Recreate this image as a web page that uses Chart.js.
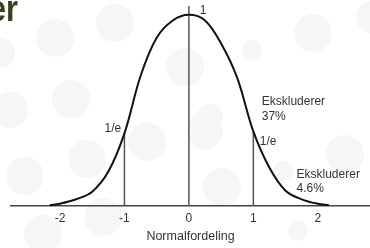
<!DOCTYPE html>
<html>
<head>
<meta charset="utf-8">
<script src="https://cdn.jsdelivr.net/npm/chart.js@4"></script>
<style>
  html, body { margin: 0; padding: 0; background: #fff; }
  #wrap { width: 370px; height: 248px; position: relative; overflow: hidden; }
</style>
</head>
<body>
<div id="wrap"><canvas id="chart" width="370" height="248"></canvas></div>
<script>
// curve (x in standard deviations, y relative to peak)
const curveX = [-2.16, -2, -1.75, -1.5, -1.25, -1, -0.75, -0.5, -0.25, 0, 0.25, 0.5, 0.75, 1, 1.25, 1.5, 1.75, 2, 2.17];
const curveY = [0.004, 0.012, 0.035, 0.075, 0.18, 0.38, 0.68, 0.88, 0.97, 1, 0.97, 0.85, 0.67, 0.39, 0.2, 0.08, 0.035, 0.012, 0.005];
// vertical markers
const markerX = [-1, 0, 1];
const markerTop = [0.38, 1.046, 0.39];
const tickVals = [-2, -1, 0, 1, 2];
const axisTitle = 'Normalfordeling';
// annotations: text lines, anchor in data units
const notes = [
  { lines: ['1'], x: 0.17, y: 1.02 },
  { lines: ['1/e'], x: -1.05, y: 0.405, align: 'right' },
  { lines: ['1/e'], x: 1.1, y: 0.335 },
  { lines: ['Ekskluderer', '37%'], x: 1.13, y: 0.545 },
  { lines: ['Ekskluderer', '4.6%'], x: 1.67, y: 0.165 }
];

// faint decorative bubbles in the slide background
const bubbles = [
  [0, 53, 15], [55, 38, 19], [115, 23, 19], [71, 99, 19], [10, 110, 18],
  [185, 67, 19], [313, 33, 19], [252, 50, 10], [372, 17, 16], [210, 117, 13],
  [87, 159, 19], [147, 142, 19], [25, 176, 19], [103, 217, 19], [43, 234, 19],
  [205, 131, 18], [222, 187, 19], [345, 154, 19], [283, 171, 10], [298, 231, 10]
];

const bgPlugin = {
  id: 'bg',
  beforeDraw(chart) {
    const ctx = chart.ctx;
    ctx.save();
    ctx.fillStyle = '#f6f6f6';
    bubbles.forEach(b => {
      ctx.beginPath();
      ctx.arc(b[0], b[1], b[2], 0, Math.PI * 2);
      ctx.fill();
    });
    // slide title remnant
    ctx.fillStyle = '#3d3d20';
    ctx.font = 'bold 36px "Liberation Sans", Arial, sans-serif';
    ctx.textBaseline = 'alphabetic';
    ctx.scale(0.85, 1);
    ctx.fillText('er', -13, 21);
    ctx.restore();
  }
};

const notePlugin = {
  id: 'notes',
  afterDatasetsDraw(chart) {
    const ctx = chart.ctx;
    const xs = chart.scales.x, ys = chart.scales.y;
    ctx.save();
    ctx.fillStyle = '#333';
    ctx.font = '12px "Liberation Sans", Arial, sans-serif';
    ctx.textBaseline = 'middle';
    notes.forEach(n => {
      ctx.textAlign = n.align || 'left';
      const px = xs.getPixelForValue(n.x);
      const py = ys.getPixelForValue(n.y);
      n.lines.forEach((t, i) => ctx.fillText(t, px, py + i * 14.5));
    });
    ctx.restore();
  }
};

const datasets = [{
  data: curveX.map((x, i) => ({ x: x, y: curveY[i] })),
  showLine: true,
  borderColor: '#111',
  borderWidth: 2,
  pointRadius: 0,
  tension: 0.35,
  order: 0
}];
markerX.forEach((x, i) => {
  datasets.push({
    data: [{ x: x, y: 0 }, { x: x, y: markerTop[i] }],
    showLine: true,
    borderColor: '#555',
    borderWidth: 1.5,
    pointRadius: 0,
    order: 1
  });
});

new Chart(document.getElementById('chart').getContext('2d'), {
  type: 'scatter',
  data: { datasets: datasets },
  options: {
    responsive: false,
    animation: false,
    layout: { padding: { left: 11, right: 0, top: 6, bottom: 0 } },
    plugins: { legend: { display: false }, tooltip: { enabled: false } },
    scales: {
      x: {
        type: 'linear', min: -2.76, max: 2.81,
        afterBuildTicks: s => { s.ticks = tickVals.map(v => ({ value: v })); },
        grid: { display: false, drawTicks: false },
        border: { display: true, color: '#444', width: 1.5 },
        ticks: { color: '#333', padding: 5, font: { family: '"Liberation Sans", Arial', size: 12 }, maxRotation: 0 },
        title: { display: true, text: axisTitle, color: '#333', padding: { top: -1, bottom: 3.6 }, font: { family: '"Liberation Sans", Arial', size: 12.5 } }
      },
      y: { display: false, min: 0, max: 1.046 }
    }
  },
  plugins: [bgPlugin, notePlugin]
});
</script>
</body>
</html>
